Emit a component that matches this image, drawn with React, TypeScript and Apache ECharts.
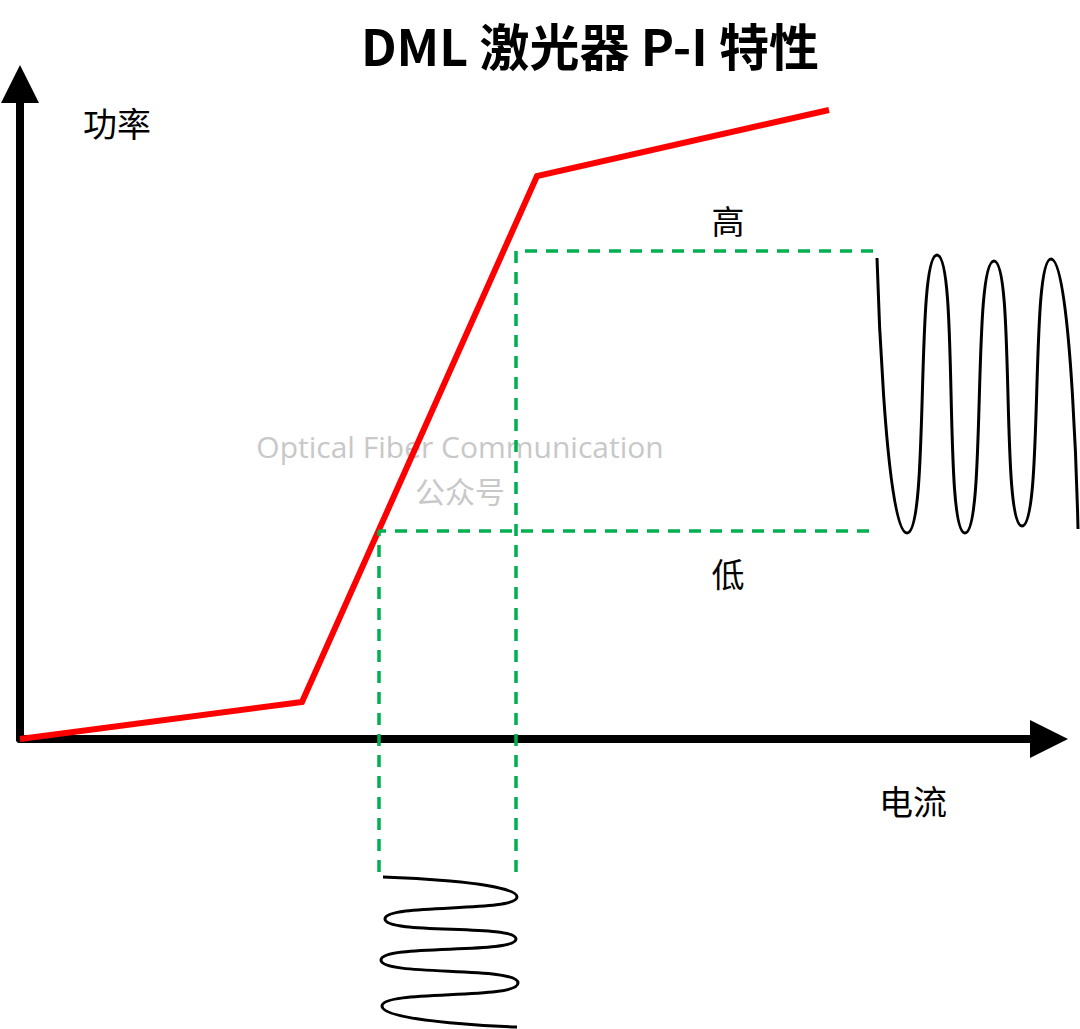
import React, { useEffect, useRef } from "react";
import * as echarts from "echarts";

// P-I curve (current, power) in arbitrary units
const piCurrent = [0, 28.2, 51.7, 80.9];
const piPower = [0, 3.7, 56.3, 62.9];

// operating levels
const highLevel = 48.8;
const lowLevel = 20.8;
const highCurrent = 49.6;
const lowCurrent = 35.9;
const levelLineEnd = 85.7;
const currentLineEnd = -13.3;

// optical output waveform (right side): x, y pairs at extremes
const outWaveX = [85.7, 88.7, 91.7, 94.5, 97.4, 100.2, 103.1, 105.8];
const outWaveY = [48.1, 20.6, 48.4, 20.6, 47.8, 21.3, 48.0, 21.0];

// drive current waveform (bottom): x, y pairs at extremes
const inWaveX = [36.3, 49.7, 36.5, 49.6, 36.1, 49.8, 36.2, 49.7];
const inWaveY = [-13.8, -15.8, -18.0, -20.0, -22.1, -24.4, -26.7, -28.8];

const titleText = "DML 激光器 P-I 特性";
const yAxisName = "功率";
const xAxisName = "电流";
const highLabel = "高";
const lowLabel = "低";
const watermark1 = "Optical Fiber Communication";
const watermark2 = "公众号";

const zip = (xs: number[], ys: number[]) => xs.map((x, i) => [x, ys[i]]);

export default function App() {
  const ref = useRef<HTMLDivElement>(null);
  useEffect(() => {
    if (!ref.current) return;
    const chart = echarts.init(ref.current, null, { renderer: "svg" });
    const green = "#00B050";
    const dashed = { color: green, width: 3.5, type: [12, 9] as any };
    const cjk = '"Noto Sans CJK SC", "Microsoft YaHei", sans-serif';
    const hiddenAxis = {
      axisLine: { show: false },
      axisTick: { show: false },
      axisLabel: { show: false },
      splitLine: { show: false },
    };
    const visibleAxisLine = {
      show: true,
      onZero: false,
      symbol: ["none", "triangle"],
      symbolSize: [38, 38],
      lineStyle: { color: "#000", width: 8 },
    };
    const txt = (text: string, x: number, y: number, font: string, fill = "#000") => ({
      type: "text",
      z: 0,
      x,
      y,
      style: { text, font, fill, textAlign: "center", textVerticalAlign: "middle" },
    });
    chart.setOption({
      animation: false,
      backgroundColor: "#ffffff",
      grid: [
        // visible axes
        { left: 20, right: 31, top: 84, bottom: 290 },
        // same scale (10 px per unit) covering the whole drawing area, for the marks
        { left: 20, right: 0, top: 84, bottom: 0 },
      ],
      xAxis: [
        {
          type: "value",
          gridIndex: 0,
          min: 0,
          max: 102.9,
          axisLine: visibleAxisLine,
          axisTick: { show: false },
          axisLabel: { show: false },
          splitLine: { show: false },
        },
        { type: "value", gridIndex: 1, min: 0, max: 106, ...hiddenAxis },
      ],
      yAxis: [
        {
          type: "value",
          gridIndex: 0,
          min: 0,
          max: 65.5,
          axisLine: visibleAxisLine,
          axisTick: { show: false },
          axisLabel: { show: false },
          splitLine: { show: false },
        },
        { type: "value", gridIndex: 1, min: -29, max: 65.5, ...hiddenAxis },
      ],
      graphic: [
        txt(titleText, 590, 44, `bold 50px ${cjk}`),
        txt(yAxisName, 117, 122, `34px ${cjk}`),
        txt(xAxisName, 913, 800, `34px ${cjk}`),
        txt(highLabel, 728, 220, `33px ${cjk}`),
        txt(lowLabel, 728, 573, `33px ${cjk}`),
        txt(watermark1, 460, 446, '30px "Open Sans", "Noto Sans", sans-serif', "#c8c8c8"),
        txt(watermark2, 460, 490, `30px ${cjk}`, "#c8c8c8"),
      ],
      series: [
        {
          type: "line",
          xAxisIndex: 1,
          yAxisIndex: 1,
          z: 3,
          data: zip(piCurrent, piPower),
          showSymbol: false,
          silent: true,
          clip: false,
          lineStyle: { color: "#FF0000", width: 6, join: "miter" },
        },
        {
          type: "line",
          xAxisIndex: 1,
          yAxisIndex: 1,
          z: 4,
          data: [
            [highCurrent, currentLineEnd],
            [highCurrent, highLevel],
            [levelLineEnd, highLevel],
          ],
          showSymbol: false,
          silent: true,
          clip: false,
          lineStyle: dashed,
        },
        {
          type: "line",
          xAxisIndex: 1,
          yAxisIndex: 1,
          z: 4,
          data: [
            [lowCurrent, currentLineEnd],
            [lowCurrent, lowLevel],
            [levelLineEnd, lowLevel],
          ],
          showSymbol: false,
          silent: true,
          clip: false,
          lineStyle: dashed,
        },
        {
          type: "line",
          xAxisIndex: 1,
          yAxisIndex: 1,
          z: 3,
          data: zip(outWaveX, outWaveY),
          smooth: 0.75,
          showSymbol: false,
          silent: true,
          clip: false,
          lineStyle: { color: "#000", width: 3 },
        },
        {
          type: "line",
          xAxisIndex: 1,
          yAxisIndex: 1,
          z: 3,
          data: zip(inWaveX, inWaveY),
          smooth: 0.75,
          showSymbol: false,
          silent: true,
          clip: false,
          lineStyle: { color: "#000", width: 3 },
        },
      ],
    });
    return () => chart.dispose();
  }, []);
  return (
    <div
      ref={ref}
      style={{ position: "fixed", left: 0, top: 0, width: 1080, height: 1029, background: "#fff" }}
    />
  );
}
